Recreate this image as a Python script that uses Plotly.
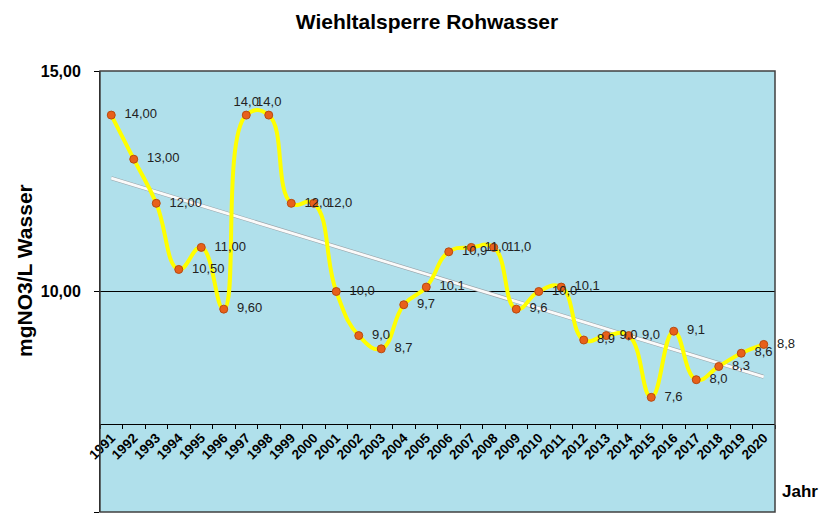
import numpy as np
import plotly.graph_objects as go

years = [str(y) for y in range(1991, 2021)]
values = [14.00, 13.00, 12.00, 10.50, 11.00, 9.60, 14.0, 14.0, 12.0, 12.0,
          10.0, 9.0, 8.7, 9.7, 10.1, 10.9, 11.0, 11.0, 9.6, 10.0,
          10.1, 8.9, 9.0, 9.0, 7.6, 9.1, 8.0, 8.3, 8.6, 8.8]
labels = ["14,00", "13,00", "12,00", "10,50", "11,00", "9,60", "14,0", "14,0", "12,0", "12,0",
          "10,0", "9,0", "8,7", "9,7", "10,1", "10,9", "11,0", "11,0", "9,6", "10,0",
          "10,1", "8,9", "9,0", "9,0", "7,6", "9,1", "8,0", "8,3", "8,6", "8,8"]
label_pos = ["middle right"] * 30
label_pos[6] = "top center"
label_pos[7] = "top center"
label_text = [("\u00a0\u00a0" + t) if p == "middle right" else t
              for t, p in zip(labels, label_pos)]

FONT = "Arial, Liberation Sans, sans-serif"

# linear trend (Excel trendline) computed from data
idx = np.arange(len(values))
slope, intercept = np.polyfit(idx, values, 1)
trend = [intercept, intercept + slope * idx[-1]]
trend_x = [years[0], years[-1]]

# page has an 8px body margin: figure is shifted by (8, 8)
W, H = 822, 511

fig = go.Figure()
fig.add_trace(go.Scatter(x=years, y=values, mode="lines", line=dict(width=0),
                         hoverinfo="skip", showlegend=False))
fig.add_trace(go.Scatter(x=trend_x, y=trend, mode="lines",
                         line=dict(color="#9aa4aa", width=4), hoverinfo="skip"))
fig.add_trace(go.Scatter(x=trend_x, y=trend, mode="lines",
                         line=dict(color="#fafafa", width=2.8), hoverinfo="skip"))
fig.add_trace(go.Scatter(
    x=years, y=values, mode="lines+markers+text",
    line=dict(color="#ffff00", width=4, shape="spline", smoothing=1.3),
    marker=dict(color="#e8601a", size=8, line=dict(color="#b84a10", width=1)),
    text=label_text, textposition=label_pos,
    textfont=dict(family=FONT, size=13, color="#222222"),
    cliponaxis=False,
))

fig.update_layout(
    width=W, height=H,
    margin=dict(l=92, r=55, t=63, b=7),
    paper_bgcolor="white",
    plot_bgcolor="#b0e0eb",
    showlegend=False,
    separators=",.",
    font=dict(family=FONT, color="black"),
    title=dict(text="<b>Wiehltalsperre Rohwasser</b>", x=419 / W, xref="container",
               xanchor="center", y=1 - 14 / H, yref="container", yanchor="middle",
               font=dict(family=FONT, size=21, color="black")),
    xaxis=dict(type="category", categoryorder="array", categoryarray=years,
               range=[-0.5, 29.5], anchor="free", position=0.2,
               showline=True, linecolor="black", linewidth=1,
               ticks="outside", ticklen=4, tickcolor="black", tickson="boundaries",
               tickangle=-45, showgrid=False, zeroline=False,
               tickfont=dict(family=FONT, size=13.5, color="black", weight="bold")),
    yaxis=dict(range=[5, 15], dtick=5, tickformat=".2f",
               showline=True, linecolor="black", linewidth=1,
               ticks="outside", ticklen=5, tickcolor="black", ticklabelstandoff=10,
               showgrid=True, gridcolor="black", gridwidth=1, zeroline=False,
               tickfont=dict(family=FONT, size=16, color="black", weight="bold")),
    shapes=[dict(type="rect", xref="paper", yref="paper", x0=0, x1=1, y0=0, y1=1,
                 line=dict(color="#404040", width=1.5), fillcolor="rgba(0,0,0,0)")],
    annotations=[
        dict(text="<b>mgNO3/L Wasser</b>", xref="paper", yref="paper",
             x=(24 - 100) / 675, y=(512 - 271) / 441, textangle=-90, showarrow=False,
             xanchor="center", yanchor="middle",
             font=dict(family=FONT, size=21, color="black")),
        dict(text="<b>Jahr</b>", xref="paper", yref="paper",
             x=(800 - 100) / 675, y=(512 - 491) / 441, showarrow=False,
             xanchor="center", yanchor="middle",
             font=dict(family=FONT, size=17, color="black")),
    ],
)

fig.write_html("out.html")
